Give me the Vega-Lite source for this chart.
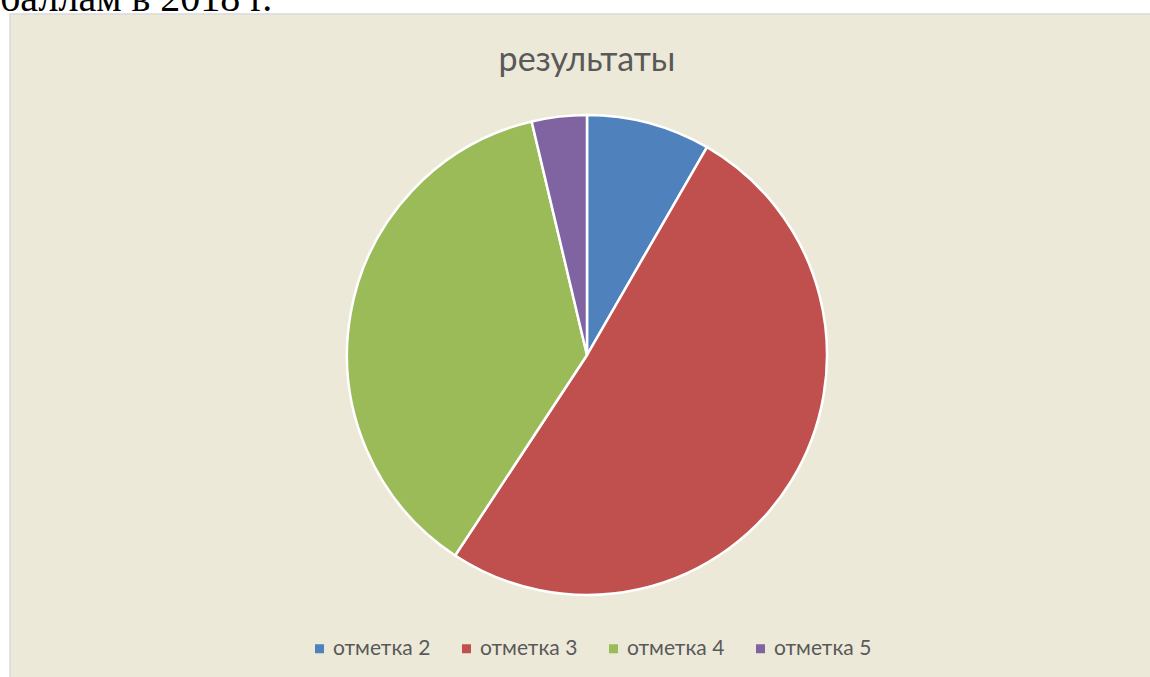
{
  "$schema": "https://vega.github.io/schema/vega-lite/v6.json",
  "width": 1154,
  "height": 682,
  "autosize": {"type": "none"},
  "padding": {"left": 10, "top": 14, "right": 0, "bottom": 0},
  "background": "white",
  "view": {"fill": "#EDE9D9", "stroke": "#D9D9D9", "strokeWidth": 1.5},
  "layer": [
    {
      "data": {
        "values": [
          {"label": "отметка 2", "k": 1, "count": 9},
          {"label": "отметка 3", "k": 2, "count": 55},
          {"label": "отметка 4", "k": 3, "count": 40},
          {"label": "отметка 5", "k": 4, "count": 4}
        ]
      },
      "mark": {"type": "arc", "outerRadius": 240, "stroke": "white", "strokeWidth": 2.5},
      "encoding": {
        "theta": {"field": "count", "type": "quantitative", "stack": true},
        "order": {"field": "k", "type": "quantitative"},
        "color": {
          "field": "label",
          "type": "nominal",
          "scale": {
            "domain": ["отметка 2", "отметка 3", "отметка 4", "отметка 5"],
            "range": ["#4F81BD", "#C0504D", "#9BBB59", "#8064A2"]
          },
          "legend": {
            "title": null,
            "orient": "none",
            "direction": "horizontal",
            "legendX": 299,
            "legendY": 624,
            "symbolType": "square",
            "symbolSize": 81,
            "symbolStrokeWidth": 0,
            "labelFont": "Lato",
            "labelFontSize": 21,
            "labelColor": "#595959",
            "labelOffset": 3,
            "columnPadding": 25
          }
        }
      }
    },
    {
      "data": {"values": [{"t": "результаты"}]},
      "mark": {
        "type": "text",
        "font": "Lato",
        "fontSize": 34,
        "color": "#595959",
        "align": "center",
        "baseline": "alphabetic",
        "dy": -284
      },
      "encoding": {"text": {"field": "t"}}
    },
    {
      "data": {"values": [{"t": "баллам в 2018 г."}]},
      "mark": {
        "type": "text",
        "font": "Liberation Serif",
        "fontSize": 40,
        "color": "black",
        "align": "left",
        "baseline": "alphabetic",
        "dx": -587,
        "dy": -344
      },
      "encoding": {"text": {"field": "t"}}
    }
  ]
}
